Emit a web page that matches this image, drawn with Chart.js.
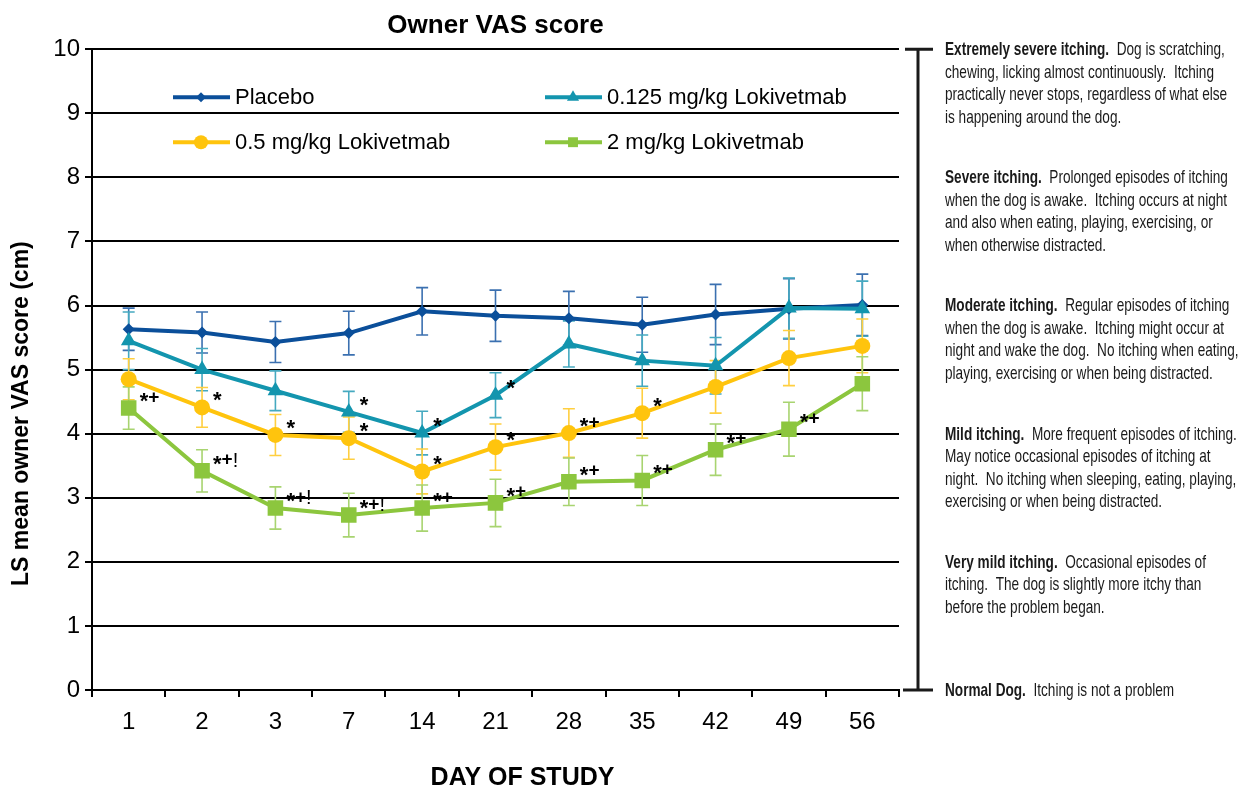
<!DOCTYPE html>
<html>
<head>
<meta charset="utf-8">
<script src="https://cdn.jsdelivr.net/npm/chart.js@4.4.1/dist/chart.umd.min.js"></script>
<style>
  html, body { margin: 0; padding: 0; background: #fff; }
  #wrap { width: 1243px; height: 789px; position: relative; }
</style>
</head>
<body>
<div id="wrap"><canvas id="vasChart" width="1243" height="789"></canvas></div>
<script>
const days = ['1', '2', '3', '7', '14', '21', '28', '35', '42', '49', '56'];

const placebo = [5.63, 5.58, 5.43, 5.57, 5.91, 5.84, 5.80, 5.70, 5.86, 5.95, 6.01];
const placeboErr = [0.33, 0.32, 0.32, 0.34, 0.37, 0.40, 0.42, 0.43, 0.47, 0.47, 0.48];

const lowDose = [5.45, 5.00, 4.67, 4.34, 4.01, 4.60, 5.40, 5.14, 5.06, 5.96, 5.95];
const lowDoseErr = [0.45, 0.33, 0.31, 0.32, 0.34, 0.35, 0.36, 0.40, 0.44, 0.47, 0.43];
const lowDoseNotes = ['', '', '', '*', '*', '*', '', '', '', '', ''];

const midDose = [4.85, 4.41, 3.98, 3.93, 3.41, 3.79, 4.01, 4.32, 4.73, 5.18, 5.37];
const midDoseErr = [0.32, 0.31, 0.32, 0.33, 0.35, 0.36, 0.38, 0.39, 0.41, 0.43, 0.42];
const midDoseNotes = ['', '*', '*', '*', '*', '*', '*+', '*', '', '', ''];

const highDose = [4.40, 3.42, 2.84, 2.73, 2.84, 2.92, 3.25, 3.27, 3.75, 4.07, 4.78];
const highDoseErr = [0.33, 0.33, 0.33, 0.34, 0.36, 0.37, 0.37, 0.39, 0.40, 0.42, 0.42];
const highDoseNotes = ['*+', '*+!', '*+!', '*+!', '*+', '*+', '*+', '*+', '*+', '*+', ''];

const yTicks = [0, 1, 2, 3, 4, 5, 6, 7, 8, 9, 10];

// itching scale text, keyed by the y value its first line sits on
const scaleNotes = [
  { at: 10, head: 'Extremely severe itching.', lines: ['  Dog is scratching,', 'chewing, licking almost continuously.  Itching', 'practically never stops, regardless of what else', 'is happening around the dog.'] },
  { at: 8, head: 'Severe itching.', lines: ['  Prolonged episodes of itching', 'when the dog is awake.  Itching occurs at night', 'and also when eating, playing, exercising, or', 'when otherwise distracted.'] },
  { at: 6, head: 'Moderate itching.', lines: ['  Regular episodes of itching', 'when the dog is awake.  Itching might occur at', 'night and wake the dog.  No itching when eating,', 'playing, exercising or when being distracted.'] },
  { at: 4, head: 'Mild itching.', lines: ['  More frequent episodes of itching.', 'May notice occasional episodes of itching at', 'night.  No itching when sleeping, eating, playing,', 'exercising or when being distracted.'] },
  { at: 2, head: 'Very mild itching.', lines: ['  Occasional episodes of', 'itching.  The dog is slightly more itchy than', 'before the problem began.'] },
  { at: 0, head: 'Normal Dog.', lines: ['  Itching is not a problem'] }
];

const FONT = "'Liberation Sans', Arial, sans-serif";

const series = [
  { label: 'Placebo', data: placebo, err: placeboErr, notes: null, color: '#0b4f9a', errColor: '#3b70b0', style: 'rectRot', radius: 6, order: 4 },
  { label: '0.125 mg/kg Lokivetmab', data: lowDose, err: lowDoseErr, notes: lowDoseNotes, color: '#1395ae', errColor: '#45a9c0', style: 'triangle', radius: 9, order: 3 },
  { label: '0.5 mg/kg Lokivetmab', data: midDose, err: midDoseErr, notes: midDoseNotes, color: '#ffc40d', errColor: '#ffcf40', style: 'circle', radius: 8, order: 2 },
  { label: '2 mg/kg Lokivetmab', data: highDose, err: highDoseErr, notes: highDoseNotes, color: '#8cc63e', errColor: '#a8d470', style: 'rect', radius: 11, order: 1 }
];

// glyph font + drop below the mark's centre line, so * + ! sit on one line
const noteGlyphs = {
  '*': { font: 'bold 22px ' + FONT, drop: 10 },
  '+': { font: 'bold 19px ' + FONT, drop: 4.5 },
  '!': { font: '20px ' + FONT, drop: 6 }
};

const errorBars = {
  id: 'errorBars',
  beforeDatasetsDraw(chart) {
    const ctx = chart.ctx;
    const y = chart.scales.y;
    series.forEach((s, di) => {
      const meta = chart.getDatasetMeta(di);
      ctx.save();
      ctx.strokeStyle = s.errColor;
      ctx.lineWidth = 1.6;
      meta.data.forEach((pt, i) => {
        const top = y.getPixelForValue(s.data[i] + s.err[i]);
        const bot = y.getPixelForValue(s.data[i] - s.err[i]);
        ctx.beginPath();
        ctx.moveTo(pt.x, top); ctx.lineTo(pt.x, bot);
        ctx.moveTo(pt.x - 6, top); ctx.lineTo(pt.x + 6, top);
        ctx.moveTo(pt.x - 6, bot); ctx.lineTo(pt.x + 6, bot);
        ctx.stroke();
      });
      ctx.restore();
    });
  }
};

const extras = {
  id: 'extras',
  afterDatasetsDraw(chart) {
    const ctx = chart.ctx;
    const area = chart.chartArea;

    // significance marks
    ctx.save();
    ctx.fillStyle = '#000';
    ctx.textBaseline = 'alphabetic';
    ctx.textAlign = 'left';
    series.forEach((s, di) => {
      if (!s.notes) return;
      const meta = chart.getDatasetMeta(di);
      meta.data.forEach((pt, i) => {
        let cx = pt.x + 11;
        const cy = pt.y - 10;
        for (const ch of s.notes[i]) {
          const g = noteGlyphs[ch];
          ctx.font = g.font;
          ctx.fillText(ch, cx, cy + g.drop);
          cx += ctx.measureText(ch).width;
        }
      });
    });
    ctx.restore();

    // legend inside the plot
    ctx.save();
    ctx.font = '22px ' + FONT;
    ctx.textBaseline = 'middle';
    series.forEach((s, di) => {
      const col = di % 2, row = Math.floor(di / 2);
      const x0 = area.left + (col === 0 ? 81 : 453);
      const yy = area.top + 48 + row * 45;
      ctx.strokeStyle = s.color;
      ctx.lineWidth = 4;
      ctx.beginPath(); ctx.moveTo(x0, yy); ctx.lineTo(x0 + 57, yy); ctx.stroke();
      ctx.fillStyle = s.color;
      Chart.helpers.drawPoint(ctx, { pointStyle: s.style, radius: s.style === 'rectRot' ? 5 : 7, borderWidth: 0 }, x0 + 28, yy);
      ctx.fillStyle = '#000';
      ctx.fillText(s.label, x0 + 62, yy + 1);
    });
    ctx.restore();
  },
  afterDraw(chart) {
    const ctx = chart.ctx;
    const area = chart.chartArea;
    const y = chart.scales.y;
    const yTop = y.getPixelForValue(10), yBot = y.getPixelForValue(0);
    const bx = area.right + 19;

    // axis titles
    ctx.save();
    ctx.fillStyle = '#000';
    ctx.textAlign = 'center';
    ctx.textBaseline = 'middle';
    ctx.font = 'bold 25px ' + FONT;
    ctx.fillText('DAY OF STUDY', (area.left + area.right) / 2 + 27, area.bottom + 88);
    ctx.translate(22, (area.top + area.bottom) / 2 + 44);
    ctx.rotate(-Math.PI / 2);
    ctx.font = 'bold 23px ' + FONT;
    ctx.fillText('LS mean owner VAS score (cm)', 0, 0);
    ctx.restore();

    ctx.save();
    ctx.strokeStyle = '#1a1a1a';
    ctx.lineWidth = 3;
    ctx.beginPath();
    ctx.moveTo(bx, yTop); ctx.lineTo(bx, yBot);
    ctx.moveTo(area.right + 6, yTop); ctx.lineTo(area.right + 34, yTop);
    ctx.moveTo(area.right + 4, yBot); ctx.lineTo(area.right + 34, yBot);
    ctx.stroke();

    // scale descriptions, narrow font (squeeze Arial if Narrow is missing)
    const narrow = "'Liberation Sans Narrow', 'Arial Narrow'";
    ctx.font = '17px ' + narrow + ', sans-serif';
    const wNarrow = ctx.measureText('Extremely severe').width;
    ctx.font = '17px ' + FONT;
    const wWide = ctx.measureText('Extremely severe').width;
    const squeeze = wNarrow < wWide * 0.95 ? 1 : 0.82;
    const fam = squeeze === 1 ? narrow + ', sans-serif' : FONT;

    const tx = area.right + 46;
    const lh = 22.5;
    ctx.fillStyle = '#1a1a1a';
    ctx.textBaseline = 'middle';
    ctx.textAlign = 'left';
    scaleNotes.forEach(n => {
      const y0 = y.getPixelForValue(n.at) + 1;
      ctx.save();
      ctx.translate(tx, 0);
      ctx.scale(squeeze, 1.06);
      ctx.font = 'bold 16.6px ' + fam;
      ctx.fillText(n.head, 0, y0 / 1.06);
      const hw = ctx.measureText(n.head).width;
      ctx.font = '16.6px ' + fam;
      ctx.fillText(n.lines[0], hw, y0 / 1.06);
      for (let k = 1; k < n.lines.length; k++) {
        ctx.fillText(n.lines[k], 0, (y0 + k * lh) / 1.06);
      }
      ctx.restore();
    });
    ctx.restore();
  }
};

const chart = new Chart(document.getElementById('vasChart'), {
  type: 'line',
  data: {
    labels: days,
    datasets: series.map(s => ({
      label: s.label,
      data: s.data,
      borderColor: s.color,
      backgroundColor: s.color,
      borderWidth: 4,
      pointStyle: s.style,
      pointRadius: s.radius,
      pointBorderWidth: 0,
      pointBackgroundColor: s.color,
      tension: 0,
      order: s.order
    }))
  },
  options: {
    responsive: false,
    animation: false,
    layout: { padding: { left: 0, right: 344, top: 0, bottom: 0 } },
    plugins: {
      legend: { display: false },
      tooltip: { enabled: false },
      title: {
        display: true,
        fullSize: false,
        text: 'Owner VAS score',
        color: '#000',
        font: { family: FONT, size: 26, weight: 'bold', lineHeight: 1.2 },
        padding: { top: 10, bottom: 8 }
      }
    },
    scales: {
      x: {
        offset: true,
        afterFit: s => { s.height = 99; },
        grid: { offset: true, drawOnChartArea: false, color: '#000', lineWidth: 2, tickLength: 7 },
        border: { color: '#000', width: 2 },
        ticks: { color: '#000', font: { family: FONT, size: 24 }, padding: 11 }
      },
      y: {
        min: 0,
        max: 10,
        afterFit: s => { s.width = 92; },
        afterBuildTicks: s => { s.ticks = yTicks.map(v => ({ value: v })); },
        grid: { color: '#000', lineWidth: 2, tickLength: 7 },
        border: { color: '#000', width: 2 },
        ticks: { color: '#000', font: { family: FONT, size: 24 }, padding: 5 }
      }
    }
  },
  plugins: [errorBars, extras]
});
</script>
</body>
</html>
